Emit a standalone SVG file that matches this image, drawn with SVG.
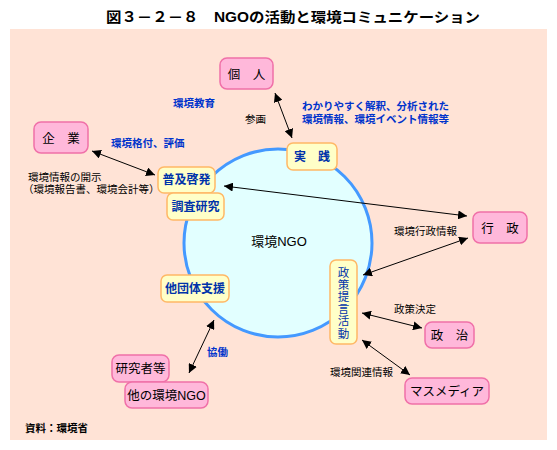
<svg xmlns="http://www.w3.org/2000/svg" width="557" height="450" viewBox="0 0 557 450">
<defs>
<marker id="ah" viewBox="0 0 10 10" refX="10" refY="5" markerWidth="9" markerHeight="9" markerUnits="userSpaceOnUse" orient="auto-start-reverse">
<path d="M0,0 L10,5 L0,10 z" fill="#000"/>
</marker>
<style>
text{font-family:"Liberation Sans","Noto Sans CJK JP",sans-serif;}
.t{font-size:10.5px;fill:#000;}
.b{font-size:10.5px;fill:#0033CC;font-weight:bold;}
.y rect{fill:#FFFFC8;stroke:#FFB866;stroke-width:1.5;}
.y text{font-size:12px;fill:#0033AA;font-weight:bold;text-anchor:middle;}
.y text.v{font-size:11.5px;font-weight:normal;}
.p rect{fill:#FFB8DA;stroke:#F070A8;stroke-width:1.5;}
.p text{font-size:12.5px;fill:#000;text-anchor:middle;}
.c line{stroke:#000;stroke-width:1;marker-start:url(#ah);marker-end:url(#ah);}
</style>
</defs>
<rect width="557" height="450" fill="#fff"/>
<text x="293" y="22" font-size="14" font-weight="600" text-anchor="middle" textLength="374" lengthAdjust="spacingAndGlyphs">図３－２－８　NGOの活動と環境コミュニケーション</text>
<rect x="10" y="29" width="537" height="411" fill="#FFE3D6"/>
<g id="ngo">
<circle cx="278" cy="243" r="94" fill="#E2FFFF" stroke="#4499FF" stroke-width="3"/>
<text x="279" y="246" font-size="13" text-anchor="middle">環境NGO</text>
</g>
<g id="connectors" class="c">
<line x1="275" y1="93" x2="292" y2="138"/>
<line x1="92" y1="151" x2="155" y2="175"/>
<line x1="224" y1="186" x2="467" y2="216"/>
<line x1="468" y1="238" x2="363" y2="275"/>
<line x1="362" y1="313" x2="422" y2="328"/>
<line x1="362" y1="340" x2="410" y2="375"/>
<line x1="214" y1="320" x2="189" y2="373"/>
</g>
<g id="jissen" class="y"><rect x="287" y="143" width="50" height="27" rx="6"/><text x="312" y="161">実　践</text></g>
<g id="fukyu" class="y"><rect x="158" y="167" width="57" height="26" rx="6"/><text x="186.5" y="184">普及啓発</text></g>
<g id="chosa" class="y"><rect x="167" y="193" width="57" height="27" rx="6"/><text x="195.5" y="211">調査研究</text></g>
<g id="tadantai" class="y"><rect x="161" y="275" width="68" height="27" rx="6"/><text x="195" y="293">他団体支援</text></g>
<g id="seisaku" class="y"><rect x="330" y="260" width="27" height="84" rx="6"/>
<text class="v" x="343.5" y="276.5">政</text><text class="v" x="343.5" y="288.7">策</text><text class="v" x="343.5" y="300.9">提</text><text class="v" x="343.5" y="313.1">言</text><text class="v" x="343.5" y="325.3">活</text><text class="v" x="343.5" y="337.5">動</text></g>
<g id="kojin" class="p"><rect x="220" y="58" width="53" height="31" rx="7"/><text x="246.5" y="78.5">個　人</text></g>
<g id="kigyo" class="p"><rect x="34" y="122" width="54" height="31" rx="7"/><text x="61" y="142.5">企　業</text></g>
<g id="gyosei" class="p"><rect x="473" y="212" width="54" height="31" rx="7"/><text x="500" y="232.5">行　政</text></g>
<g id="seiji" class="p"><rect x="425" y="322" width="49" height="26" rx="7"/><text x="449.5" y="339.5">政　治</text></g>
<g id="media" class="p"><rect x="405" y="378" width="84" height="26" rx="7"/><text x="447" y="395.5">マスメディア</text></g>
<g id="kenkyusha" class="p"><rect x="112" y="355" width="57" height="27" rx="7"/><text x="140.5" y="373">研究者等</text></g>
<g id="tangos" class="p"><rect x="125" y="382" width="83" height="26" rx="7"/><text x="166.5" y="399.5">他の環境NGO</text></g>
<g id="labels">
<text class="b" x="173" y="107">環境教育</text>
<text class="t" x="245" y="123">参画</text>
<text class="b" x="111" y="147">環境格付、評価</text>
<text class="t" x="28" y="181">環境情報の開示</text>
<text class="t" x="23" y="193">（環境報告書、環境会計等）</text>
<text class="b" x="302" y="110">わかりやすく解釈、分析された</text>
<text class="b" x="302" y="123">環境情報、環境イベント情報等</text>
<text class="t" x="394" y="235">環境行政情報</text>
<text class="t" x="394" y="313">政策決定</text>
<text class="t" x="330" y="376">環境関連情報</text>
<text class="b" x="207" y="356">協働</text>
<text class="t" x="25" y="432" font-weight="bold">資料：環境省</text>
</g>
</svg>
